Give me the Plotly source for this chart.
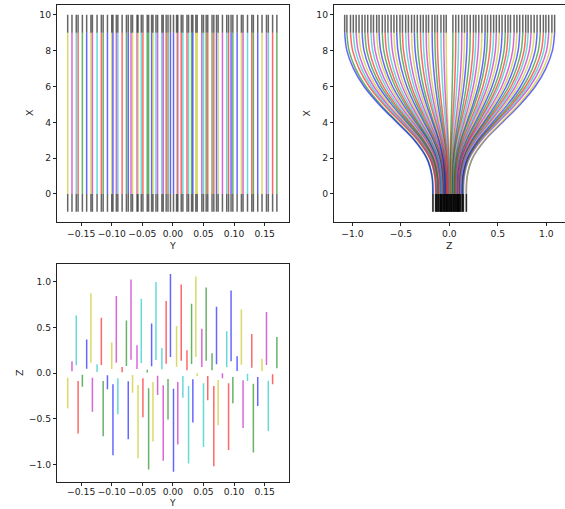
import plotly.graph_objects as go

# Ray start position in the entrance plane (Y, Z), exit height Z and colour code
ray_y = [
    -0.165, -0.158, -0.141, -0.134, -0.124, -0.117, -0.100, -0.0925, -0.083, -0.076,
    -0.0685, -0.0587, -0.0517, -0.042, -0.0348, -0.0277, -0.018, -0.011, -0.004, 0.006,
    0.0136, 0.023, 0.0305, 0.0375, 0.0473, 0.0544, 0.064, 0.0713, 0.088, 0.0951,
    0.105, 0.112, 0.129, 0.1457, 0.153, 0.170,
    -0.172, -0.155, -0.148, -0.1316, -0.114, -0.107, -0.098, -0.090, -0.073, -0.066,
    -0.057, -0.049, -0.0397, -0.0326, -0.025, -0.0158, -0.008, 0.001, 0.008, 0.0163,
    0.0256, 0.0326, 0.0397, 0.050, 0.057, 0.0669, 0.074, 0.081, 0.091, 0.098,
    0.1147, 0.122, 0.1316, 0.1387, 0.156, 0.163,
]
ray_z_start = [
    0.019, 0.084, 0.047, 0.113, 0.011, 0.087, 0.044, 0.113, 0.008, 0.077,
    0.145, 0.044, 0.109, 0.005, 0.073, 0.142, 0.040, 0.102, 0.175, 0.069,
    0.135, 0.029, 0.098, 0.175, 0.066, 0.135, 0.029, 0.095, 0.062, 0.128,
    0.022, 0.091, 0.058, 0.019, 0.087, 0.051,
    -0.051, -0.087, -0.020, -0.051, -0.087, -0.025, -0.124, -0.058, -0.091, -0.022,
    -0.131, -0.058, -0.168, -0.098, -0.029, -0.135, -0.066, -0.172, -0.098, -0.033,
    -0.142, -0.069, -0.004, -0.113, -0.033, -0.142, -0.077, -0.004, -0.113, -0.044,
    -0.080, -0.007, -0.117, -0.044, -0.084, -0.014,
]
ray_z_end = [
    0.128, 0.630, 0.368, 0.874, 0.095, 0.604, 0.335, 0.842, 0.066, 0.576,
    1.024, 0.303, 0.812, 0.036, 0.543, 0.995, 0.273, 0.787, 1.085, 0.514,
    0.969, 0.248, 0.757, 1.057, 0.484, 0.937, 0.215, 0.725, 0.456, 0.904,
    0.183, 0.696, 0.426, 0.156, 0.667, 0.393,
    -0.390, -0.663, -0.150, -0.423, -0.692, -0.178, -0.900, -0.451, -0.725, -0.215,
    -0.932, -0.484, -1.057, -0.750, -0.240, -0.962, -0.510, -1.080, -0.783, -0.270,
    -0.991, -0.543, -0.033, -0.809, -0.298, -1.020, -0.572, -0.058, -0.842, -0.331,
    -0.601, -0.087, -0.871, -0.361, -0.634, -0.124,
]
ray_color = [
    "m", "c", "b", "y", "c", "r", "y", "m", "r", "g",
    "m", "m", "c", "g", "b", "c", "c", "r", "b", "y",
    "r", "r", "g", "y", "m", "g", "g", "b", "c", "b",
    "b", "y", "r", "y", "m", "g",
    "y", "r", "g", "m", "g", "b", "b", "c", "b", "y",
    "y", "r", "g", "y", "m", "m", "g", "b", "m", "c",
    "c", "b", "y", "c", "r", "r", "y", "m", "r", "g",
    "m", "c", "g", "b", "c", "r",
]

# Normalised bend of a ray between the entrance plane (X=0) and exit plane (X=9)
profile_x = [0, 1, 2, 3, 4, 5, 6, 7, 8, 9]
profile_s = [0.0, 0.01, 0.07, 0.21, 0.41, 0.61, 0.78, 0.90, 0.975, 1.0]

# Free drift before and after the field region
x_before = [-1, 0]
x_after = [9, 10]

ALPHA = 0.6
PALETTE = {
    "r": f"rgba(255,0,0,{ALPHA})",
    "g": f"rgba(0,128,0,{ALPHA})",
    "b": f"rgba(0,0,255,{ALPHA})",
    "c": f"rgba(0,191,191,{ALPHA})",
    "m": f"rgba(191,0,191,{ALPHA})",
    "y": f"rgba(191,191,0,{ALPHA})",
}
BLACK = f"rgba(0,0,0,{ALPHA})"
LW = 1.5

fig = go.Figure()


def seg(x, y, color, xa, ya, shape="linear"):
    fig.add_trace(go.Scatter(
        x=x, y=y, mode="lines", xaxis=xa, yaxis=ya, hoverinfo="skip",
        line=dict(color=color, width=LW, shape=shape), showlegend=False,
    ))


for yy, z0, z1, c in zip(ray_y, ray_z_start, ray_z_end, ray_color):
    col = PALETTE[c]
    # Y–X view: rays travel straight in Y
    seg([yy, yy], [profile_x[0], profile_x[-1]], col, "x", "y")
    seg([yy, yy, None, yy, yy], x_before + [None] + x_after, BLACK, "x", "y")
    # Z–X view: rays fan out in Z
    zs = [z0 + (z1 - z0) * s for s in profile_s]
    seg(zs, profile_x, col, "x2", "y2", shape="spline")
    seg([z0, z0, None, z1, z1], x_before + [None] + x_after, BLACK, "x2", "y2")
    # Y–Z view: displacement between entrance and exit
    seg([yy, yy], [z0, z1], col, "x3", "y3")

W, H = 565, 509
FONT = dict(family="DejaVu Sans", size=9.2, color="#222222")
TITLE_FONT = dict(family="DejaVu Sans", size=9.4, color="#222222")
SMALL_TITLE_FONT = dict(family="DejaVu Sans", size=9.0, color="#222222")


def px(v, total):
    return v / total


def axis(domain, rng, tickvals, ticktext, anchor, standoff=0):
    return dict(
        domain=domain, range=rng, anchor=anchor, automargin=False,
        tickmode="array", tickvals=tickvals, ticktext=ticktext, tickangle=0,
        ticks="outside", ticklen=3.5, tickwidth=0.8, tickcolor="#222222",
        ticklabelstandoff=standoff,
        showline=True, linecolor="#222222", linewidth=0.9, mirror=True,
        showgrid=False, zeroline=False, tickfont=FONT,
    )


y_ticks = [-0.15, -0.10, -0.05, 0.0, 0.05, 0.10, 0.15]
y_text = [f"{v:.2f}".replace("-", "\u2212") for v in y_ticks]
x_ticks = [0, 2, 4, 6, 8, 10]
x_text = [str(v) for v in x_ticks]
z_ticks = [-1.0, -0.5, 0.0, 0.5, 1.0]
z_text = [f"{v:.1f}".replace("-", "\u2212") for v in z_ticks]

left_dom = [px(57.3, W), px(288.5, W)]
right_dom = [px(334.3, W), px(564.5, W)]
top_dom = [1 - px(221.7, H), 1 - px(5, H)]
bot_dom = [1 - px(481.7, H), 1 - px(264.3, H)]

# Axis titles placed in figure pixels (x from left, y from top, anchor, font)
axis_titles = [
    ("Y", 172.9, 245, 0, "middle", TITLE_FONT),
    ("X", 30, 113, -90, "middle", TITLE_FONT),
    ("Z", 449.4, 245, 0, "middle", TITLE_FONT),
    ("X", 306.5, 113, -90, "middle", TITLE_FONT),
    ("Y", 172.9, 509, 0, "bottom", SMALL_TITLE_FONT),
    ("Z", 19, 373, -90, "middle", TITLE_FONT),
]

fig.update_layout(
    width=W, height=H, margin=dict(l=0, r=0, t=0, b=0),
    paper_bgcolor="white", plot_bgcolor="white",
    xaxis=axis(left_dom, [-0.189, 0.189], y_ticks, y_text, "y"),
    yaxis=axis(top_dom, [-1.55, 10.55], x_ticks, x_text, "x"),
    xaxis2=axis(right_dom, [-1.187, 1.187], z_ticks, z_text, "y2"),
    yaxis2=axis(top_dom, [-1.55, 10.55], x_ticks, x_text, "x2"),
    xaxis3=axis(left_dom, [-0.189, 0.189], y_ticks, y_text, "y3", standoff=-2),
    yaxis3=axis(bot_dom, [-1.19, 1.19], z_ticks, z_text, "x3"),
    annotations=[
        dict(text=t, x=px(ax, W), y=1 - px(ay, H), xref="paper", yref="paper",
             xanchor="center", yanchor=anc, showarrow=False, borderpad=0,
             textangle=ang, font=f)
        for t, ax, ay, ang, anc, f in axis_titles
    ],
)

fig.write_html("out.html")
